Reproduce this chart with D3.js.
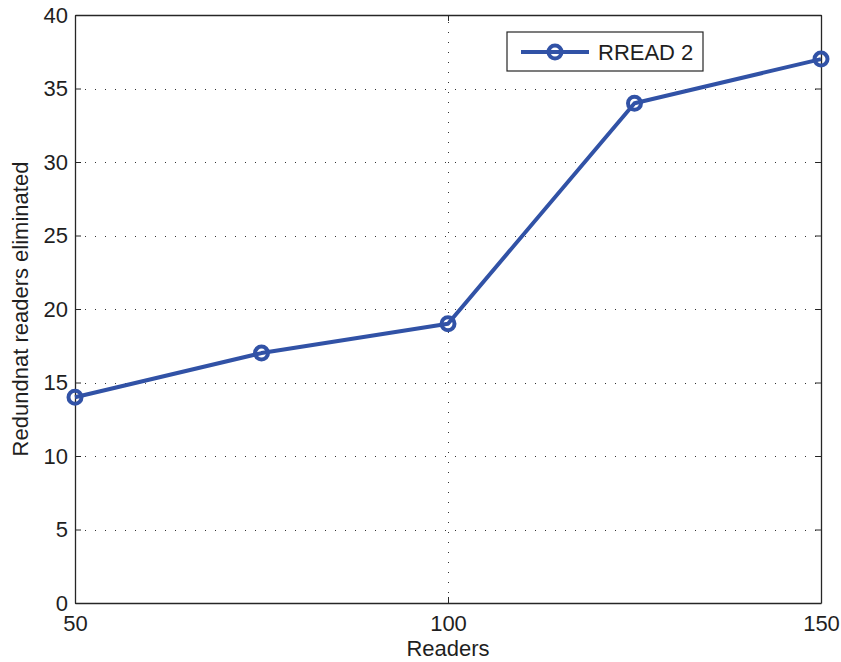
<!DOCTYPE html>
<html>
<head>
<meta charset="utf-8">
<script src="https://cdn.jsdelivr.net/npm/d3@7/dist/d3.min.js"></script>
<style>
  html, body { margin: 0; padding: 0; background: #fff; }
  svg { display: block; font-family: "Liberation Sans", Arial, Helvetica, sans-serif; }
</style>
</head>
<body>
<svg id="chart" width="841" height="662"></svg>
<script>
// Readers deployed vs. redundant readers eliminated by RREAD 2
const readers = [50, 75, 100, 125, 150];
const eliminated = [14, 17, 19, 34, 37];
const xTicks = [50, 100, 150];
const yTicks = [0, 5, 10, 15, 20, 25, 30, 35, 40];
const seriesName = "RREAD 2";

const svg = d3.select("#chart");
const margin = { left: 75, right: 20, top: 15, bottom: 59 };
const W = 841, H = 662;
const x0 = margin.left, x1 = W - margin.right, y0 = H - margin.bottom, y1 = margin.top;

const x = d3.scaleLinear().domain([50, 150]).range([x0, x1]);
const y = d3.scaleLinear().domain([0, 40]).range([y0, y1]);

const lineColor = "#3152a6";
const axisColor = "#262626";
const textColor = "#1f1f1f";
const fontSize = "22px";

// dotted grid
const grid = svg.append("g").attr("stroke", "#333").attr("stroke-width", 1)
  .attr("stroke-dasharray", "1,9").attr("fill", "none");
yTicks.filter(t => t > 0 && t < 40).forEach(t => {
  grid.append("line").attr("x1", x0).attr("x2", x1)
    .attr("y1", Math.round(y(t)) + 0.5).attr("y2", Math.round(y(t)) + 0.5);
});
xTicks.filter(t => t > 50 && t < 150).forEach(t => {
  grid.append("line").attr("y1", y0).attr("y2", y1)
    .attr("x1", Math.round(x(t)) + 0.5).attr("x2", Math.round(x(t)) + 0.5);
});

// axes with inward ticks on all four sides
const tickLen = 6;
const xAxisB = d3.axisBottom(x).tickValues(xTicks).tickSizeInner(-tickLen).tickSizeOuter(0).tickPadding(12);
const yAxisL = d3.axisLeft(y).tickValues(yTicks).tickSizeInner(-tickLen).tickSizeOuter(0).tickPadding(7);
const xAxisT = d3.axisTop(x).tickValues(xTicks).tickSizeInner(-tickLen).tickSizeOuter(0).tickFormat("");
const yAxisR = d3.axisRight(y).tickValues(yTicks).tickSizeInner(-tickLen).tickSizeOuter(0).tickFormat("");

function styleAxis(g) {
  g.selectAll("path").attr("stroke", axisColor).attr("stroke-width", 1.3);
  g.selectAll("line").attr("stroke", axisColor).attr("stroke-width", 1);
  g.selectAll("text").attr("fill", textColor).style("font-size", fontSize)
    .style("font-family", "'Liberation Sans', Arial, sans-serif");
}
svg.append("g").attr("transform", `translate(0,${y0})`).call(xAxisB).call(styleAxis);
svg.append("g").attr("transform", `translate(${x0},0)`).call(yAxisL).call(styleAxis);
svg.append("g").attr("transform", `translate(0,${y1})`).call(xAxisT).call(styleAxis);
svg.append("g").attr("transform", `translate(${x1},0)`).call(yAxisR).call(styleAxis);

// axis titles
svg.append("text").attr("x", (x0 + x1) / 2).attr("y", 656)
  .attr("text-anchor", "middle").style("font-size", fontSize).attr("fill", textColor)
  .text("Readers");
svg.append("text").attr("transform", `translate(28,${(y0 + y1) / 2}) rotate(-90)`)
  .attr("text-anchor", "middle").style("font-size", fontSize).attr("fill", textColor)
  .text("Redundnat readers eliminated");

// series line and hollow circle markers
const pts = readers.map((r, i) => [r, eliminated[i]]);
svg.append("path").datum(pts)
  .attr("fill", "none").attr("stroke", lineColor).attr("stroke-width", 4)
  .attr("stroke-linejoin", "round")
  .attr("d", d3.line().x(d => x(d[0])).y(d => y(d[1])));
svg.append("g").selectAll("circle").data(pts).join("circle")
  .attr("cx", d => x(d[0])).attr("cy", d => y(d[1])).attr("r", 6.5)
  .attr("fill", "none").attr("stroke", lineColor).attr("stroke-width", 4);

// legend
const lg = svg.append("g").attr("transform", "translate(507,32)");
lg.append("rect").attr("width", 196).attr("height", 39)
  .attr("fill", "#fff").attr("stroke", axisColor).attr("stroke-width", 1.2);
lg.append("line").attr("x1", 14).attr("x2", 82).attr("y1", 20).attr("y2", 20)
  .attr("stroke", lineColor).attr("stroke-width", 4);
lg.append("circle").attr("cx", 48).attr("cy", 20).attr("r", 6.5)
  .attr("fill", "none").attr("stroke", lineColor).attr("stroke-width", 4);
lg.append("text").attr("x", 91).attr("y", 28).style("font-size", fontSize)
  .attr("fill", textColor).text(seriesName);
</script>
</body>
</html>
